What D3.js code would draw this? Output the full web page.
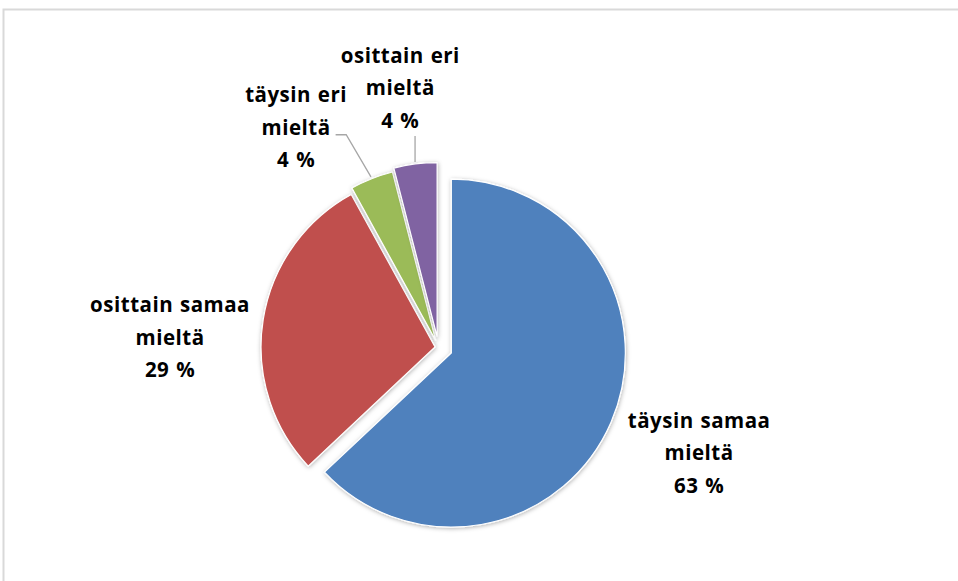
<!DOCTYPE html>
<html>
<head>
<meta charset="utf-8">
<script src="https://cdn.jsdelivr.net/npm/d3@7/dist/d3.min.js"></script>
<style>
  html, body { margin: 0; padding: 0; background: #fff; }
  svg { display: block; }
  .lbl { font-family: "Open Sans", Lato, sans-serif; font-weight: 700; font-size: 20.5px; letter-spacing: 0.5px; word-spacing: 1px; fill: #000; }
</style>
</head>
<body>
<svg id="chart" width="958" height="581"></svg>
<script>
// Answer categories and their shares (%)
const categories = ["täysin samaa mieltä", "osittain samaa mieltä", "täysin eri mieltä", "osittain eri mieltä"];
const labelLines = [["täysin samaa", "mieltä"], ["osittain samaa", "mieltä"], ["täysin eri", "mieltä"], ["osittain eri", "mieltä"]];
const values = [63, 29, 4, 4];
const colors = ["#4F81BD", "#C0504D", "#9BBB59", "#8064A2"];

// Layout
const W = 958, H = 581;
const cx = 438.5, cy = 347.5, R = 174;
const explode = [14, 3.5, 7.5, 11];          // per-slice pull-out distance
const labelPlace = [                           // label radius and angular nudge (deg)
  { r: 284, shift: 0 },
  { r: 268.5, shift: -8.4 },
  { r: 256, shift: -12.2 },
  { r: 255.3, shift: -1.4 }
];
const leader = [null, null, "elbow", "vertical"];
const lineGap = 32.5;

const svg = d3.select("#chart");

// outer chart frame
svg.append("rect")
  .attr("x", 3.5).attr("y", 9.5).attr("width", 1000).attr("height", 700)
  .attr("fill", "none").attr("stroke", "#d9d9d9").attr("stroke-width", 2);

const defs = svg.append("defs");
const f = defs.append("filter").attr("id", "shadow")
  .attr("x", "-20%").attr("y", "-20%").attr("width", "140%").attr("height", "140%");
f.append("feDropShadow").attr("dx", 0.5).attr("dy", 1).attr("stdDeviation", 2.2)
  .attr("flood-color", "#000").attr("flood-opacity", 0.3);

const pie = d3.pie().sort(null).startAngle(0).endAngle(2 * Math.PI);
const arcs = pie(values);
const arc = d3.arc().innerRadius(0).outerRadius(R);

const g = svg.append("g").attr("transform", `translate(${cx},${cy})`);

function mid(a) { return (a.startAngle + a.endAngle) / 2; }
function polar(r, ang) { return [Math.sin(ang) * r, -Math.cos(ang) * r]; }

arcs.forEach((a, i) => {
  const [ox, oy] = polar(explode[i], mid(a));
  g.append("path")
    .attr("d", arc(a))
    .attr("transform", `translate(${ox},${oy})`)
    .attr("fill", colors[i])
    .attr("stroke", "#fff").attr("stroke-width", 1.2)
    .attr("filter", "url(#shadow)");
});

// labels and leader lines
arcs.forEach((a, i) => {
  const ang = mid(a) + labelPlace[i].shift * Math.PI / 180;
  const [lx, ly] = polar(labelPlace[i].r, ang);
  const lines = labelLines[i].concat([values[i] + " %"]);
  const t = g.append("text").attr("class", "lbl").attr("text-anchor", "middle");
  lines.forEach((s, k) => {
    t.append("tspan").attr("x", lx).attr("y", ly + (k - 1) * lineGap).text(s);
  });

  const [ox, oy] = polar(explode[i], mid(a));
  const [ex, ey] = polar(R + 2, mid(a));
  const end = [ox + ex, oy + ey];
  let pts = null;
  if (leader[i] === "elbow") {
    const w = t.select("tspan:nth-child(2)").node().getComputedTextLength();
    const sx = lx + w / 2 + 5;
    pts = [[sx, ly], [sx + 10.6, ly], end];
  } else if (leader[i] === "vertical") {
    pts = [[end[0], ly + 41], end];
  }
  if (pts) {
    g.append("path").attr("d", d3.line()(pts))
      .attr("fill", "none").attr("stroke", "#a6a6a6").attr("stroke-width", 1.3);
  }
});
</script>
</body>
</html>
